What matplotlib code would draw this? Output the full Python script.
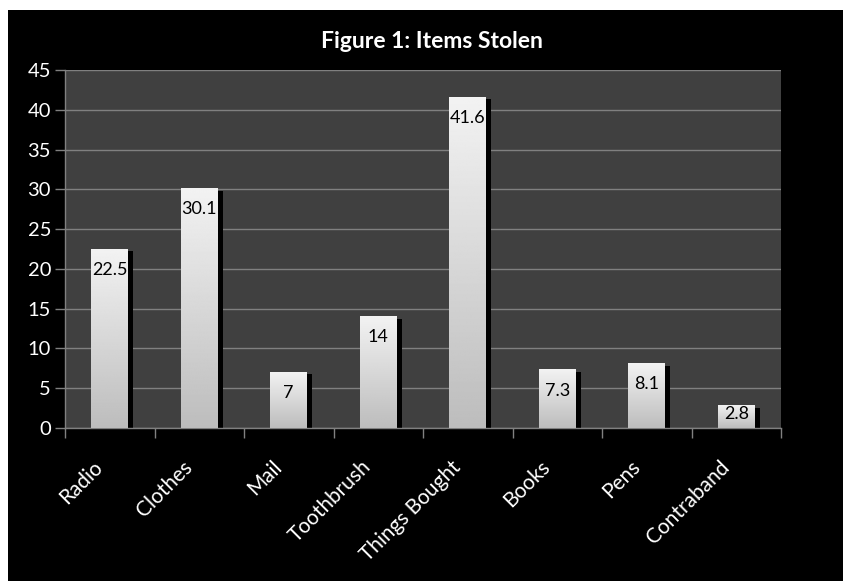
import numpy as np
import matplotlib
matplotlib.use("Agg")
import matplotlib.pyplot as plt
from matplotlib.patches import Rectangle
from matplotlib.transforms import ScaledTranslation

items = ["Radio", "Clothes", "Mail", "Toothbrush", "Things Bought", "Books", "Pens", "Contraband"]
stolen = [22.5, 30.1, 7, 14, 41.6, 7.3, 8.1, 2.8]
y_ticks = [0, 5, 10, 15, 20, 25, 30, 35, 40, 45]

plt.rcParams['font.family'] = ['Lato', 'DejaVu Sans']

fig = plt.figure(figsize=(8.43, 5.81), dpi=100)
fig.patch.set_facecolor("white")
# black chart frame, white margin only on top and left
fig.patches.append(Rectangle((8 / 843, 0), 1, 1 - 10 / 581, transform=fig.transFigure,
                             facecolor="black", edgecolor="none", zorder=-10))

ax = fig.add_axes([65 / 843, 1 - 428 / 581, (781 - 65) / 843, (428 - 70) / 581])
ax.set_facecolor("#404040")

x = np.arange(len(items))
width = 0.41
shadow_dx = 0.06
grad = np.linspace(0.95, 0.74, 256).reshape(-1, 1)

for xi, v in zip(x, stolen):
    # drop shadow behind each bar
    ax.add_patch(Rectangle((xi - width / 2 + shadow_dx, 0), width, max(v - 0.25, 0),
                           facecolor="black", edgecolor="none", zorder=2))
    # gradient filled bar
    ax.imshow(grad, extent=[xi - width / 2, xi + width / 2, 0, v], aspect="auto",
              cmap="gray", vmin=0, vmax=1, zorder=3, interpolation="bilinear")
    label_y = v - 2.6 if v > 5 else v - 1.0
    ax.text(xi, label_y, f"{v:g}", ha="center", va="center", fontsize=13,
            color="black", zorder=4)

ax.set_xlim(-0.5, len(items) - 0.5)
ax.set_ylim(0, 45)
ax.set_yticks(y_ticks)
ax.set_yticklabels([str(t) for t in y_ticks], color="white", fontsize=14.5)

ax.set_xticks(np.arange(-0.5, len(items)), minor=False)
ax.set_xticklabels([])
ax.set_xticks(x, minor=True)
ax.set_xticklabels(items, minor=True, rotation=45, ha="right", rotation_mode="anchor",
                   color="white", fontsize=15)
ax.tick_params(axis="x", which="minor", length=0, pad=12)
ax.tick_params(axis="x", which="major", length=7, color="#808080", width=1)
ax.tick_params(axis="y", length=7, color="#808080", width=1, pad=3)
shift = ScaledTranslation(-17 / 100, -12 / 100, fig.dpi_scale_trans)
for lbl in ax.get_xticklabels(minor=True):
    lbl.set_transform(lbl.get_transform() + shift)

ax.grid(axis="y", color="#808080", linewidth=1)
ax.set_axisbelow(True)
for side in ["top", "right"]:
    ax.spines[side].set_visible(False)
for side in ["left", "bottom"]:
    ax.spines[side].set_color("#808080")
    ax.spines[side].set_linewidth(1)

fig.text(432 / 843, 1 - 42 / 581, "Figure 1: Items Stolen", ha="center", va="center",
         color="white", fontsize=16.5, fontweight="bold")

fig.savefig("out.png", dpi=100, facecolor=fig.get_facecolor())
